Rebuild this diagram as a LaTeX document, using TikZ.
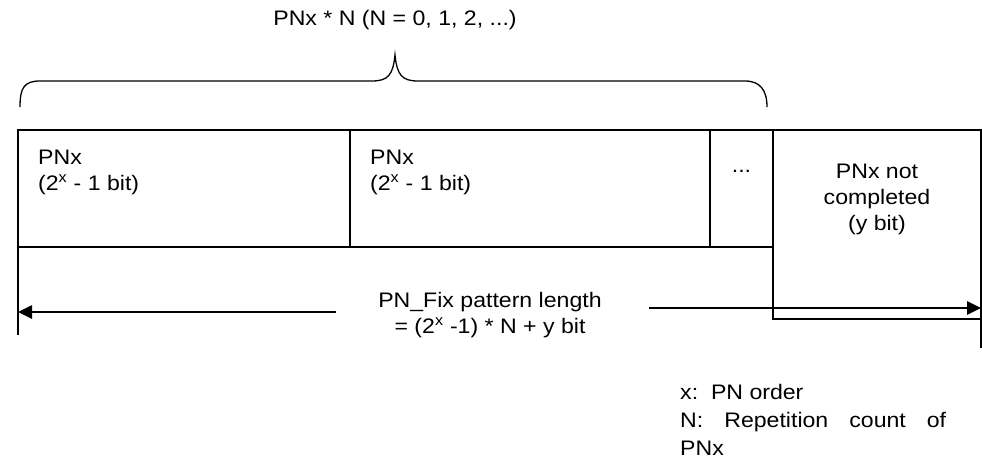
\documentclass[tikz,border=0pt]{standalone}
\usepackage{fontspec}
\setmainfont[FakeStretch=1.1]{Liberation Sans}
\usetikzlibrary{arrows.meta, positioning, calc}
\tikzset{
  %% ---- boxes ----
  cell/.style    = {rectangle, draw=black, line width=2pt, inner sep=0pt,
                    outer sep=0pt, minimum width=#1, minimum height=117pt},
  cell/.default  = 332pt,
  txt/.style     = {inner sep=0pt, font=\fontsize{21}{26}\selectfont},
  %% ---- lines ----
  lenarrow/.style = {-{Triangle[length=14pt, width=13pt]}, line width=2.6pt},
  endmark/.style  = {line width=1.6pt},
  bracepath/.style= {line width=1.3pt},
}
\begin{document}
\begin{tikzpicture}[x=1pt, y=-1pt]
  \useasboundingbox (0,0) rectangle (982,459);

  %% the pattern cells
  \node[cell, anchor=north west] (pnA) at (18,130) {};
  \node[cell=360pt, right=0pt of pnA] (pnB) {};
  \node[cell=63pt, right=0pt of pnB] (more) {};
  \node[cell=208pt, minimum height=189pt, anchor=north west] (rest)
    at (more.north east) {};

  %% (base = baseline of the last line)
  \node[txt, anchor=base west, align=left] (pnAtxt)
    at ($(pnA.north west)+(20,60)$) {PNx\\(2\textsuperscript{x} - 1 bit)};
  \node[txt, anchor=base west, align=left] (pnBtxt)
    at ($(pnB.north west)+(20,60)$) {PNx\\(2\textsuperscript{x} - 1 bit)};
  \node[txt, anchor=base] (moretxt) at ($(more.north)+(0,42)$) {...};
  \node[txt, anchor=base, align=center] (resttxt)
    at ($(rest.north)+(0,100)$) {PNx not\\completed\\(y bit)};

  %% repetition brace
  \node[txt, anchor=base] (replabel) at (395,25) {PNx * N (N = 0, 1, 2, ...)};
  \draw[bracepath] (20,107) .. controls (20,88) and (24,81) .. (40,81)
    -- (372,81) .. controls (388,81) and (393,75) .. (395,55)
    .. controls (397,75) and (402,81) .. (418,81)
    -- (745,81) .. controls (760,81) and (767,90) .. (767,107);

  %% total length
  \draw[endmark] ([yshift=6pt]pnA.south west) -- ++(0,94);
  \draw[endmark] (rest.south east) -- ++(0,29);
  \node[txt, anchor=base, align=center] (lenlabel) at (490,333)
    {PN\_Fix pattern length\\= (2\textsuperscript{x} -1) * N + y bit};
  \coordinate (arrL) at (336,312);
  \coordinate (arrR) at (649,308);
  \draw[lenarrow] (arrL) -- (arrL -| pnA.west);
  \draw[lenarrow] (arrR) -- (arrR -| rest.east);

  %% legend (text width: base = first line)
  \node[txt, font=\fontsize{21}{28}\selectfont, anchor=base west,
    text width=266pt, align=justify] (legend) at (680,399)
    {x:\ \ PN order\\N: Repetition count of\linebreak PNx};
\end{tikzpicture}
\end{document}
